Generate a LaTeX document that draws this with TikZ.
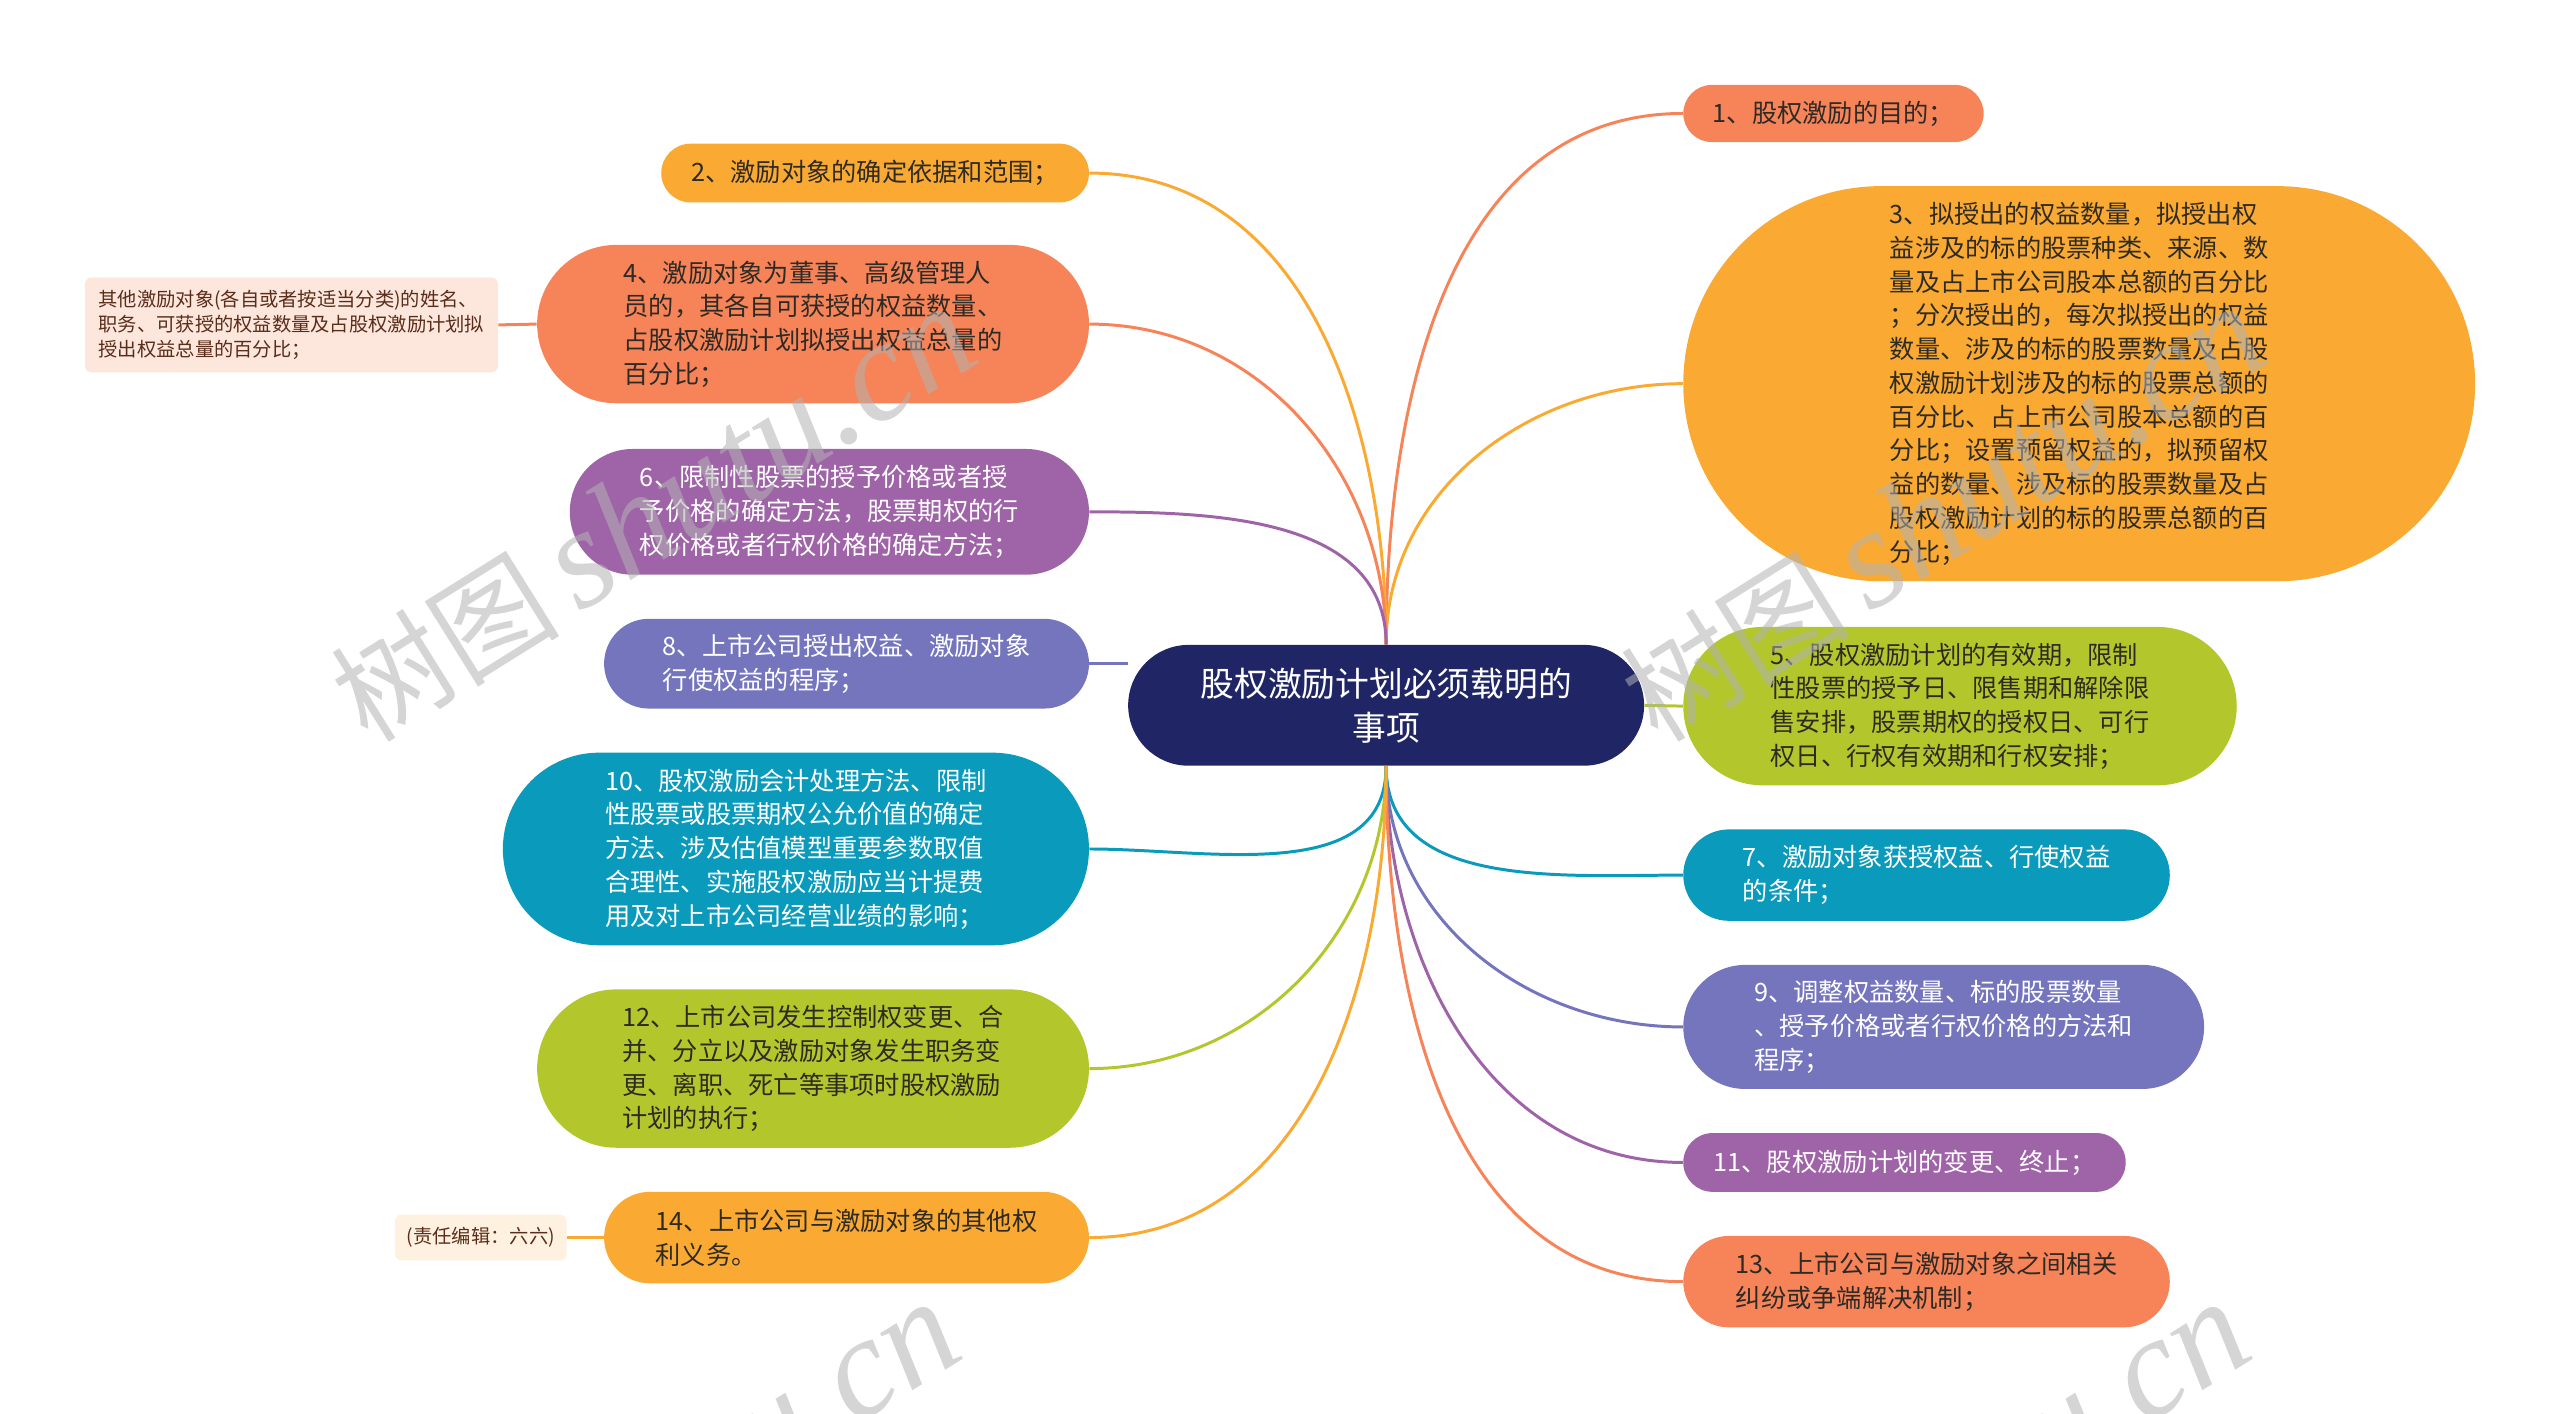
\documentclass[tikz,border=0pt]{standalone}
\usepackage{fontspec}
\setmainfont{Noto Sans CJK SC}
\newfontfamily\wmlat{Liberation Serif}
\definecolor{navy}{HTML}{1F2565}
\definecolor{coral}{HTML}{F68458}
\definecolor{orangeY}{HTML}{FAAA33}
\definecolor{lime}{HTML}{B3C72C}
\definecolor{teal}{HTML}{0A9ABB}
\definecolor{pblue}{HTML}{7575BE}
\definecolor{purp}{HTML}{9F64A8}
\definecolor{peach}{HTML}{FDE6DC}
\definecolor{cream}{HTML}{FEF1DF}
\definecolor{darktxt}{HTML}{2E2A26}
\definecolor{browntxt}{HTML}{5A2D1A}
\pgfdeclarelayer{bg}
\pgfsetlayers{bg,main}
\tikzset{
  box/.style={draw=none, align=left, inner sep=0pt, font=\fontsize{11}{14.7}\selectfont},
  sz/.style 2 args={minimum width=#1*0.025cm, minimum height=#2*0.025cm, rounded corners=#2*0.0125cm},
  subbox/.style={draw=none, align=left, inner sep=0pt, rounded corners=0.1cm, font=\fontsize{8.4}{11}\selectfont, text=browntxt},
  link/.style={line width=1.3pt},
  wm/.style={text=gray!60, text opacity=0.55, rotate=32, inner sep=0pt},
}
\begin{document}
\begin{tikzpicture}[x=0.025cm, y=-0.025cm]
\useasboundingbox (0,0) rectangle (1568,865.5);
% central
\node[box, sz={316}{74}, fill=navy, text=white, align=center, font=\fontsize{14.7}{19.1}\selectfont] (c) at (849,432) {股权激励计划必须载明的\\事项};
% right side
\node[box, sz={184}{35}, fill=coral, text=darktxt] (n1) at (1123,69.5) {1、股权激励的目的；};
\node[box, sz={485}{242}, fill=orangeY, text=darktxt] (n3) at (1273.5,235) {3、拟授出的权益数量，拟授出权\\益涉及的标的股票种类、来源、数\\量及占上市公司股本总额的百分比\\；分次授出的，每次拟授出的权益\\数量、涉及的标的股票数量及占股\\权激励计划涉及的标的股票总额的\\百分比、占上市公司股本总额的百\\分比；设置预留权益的，拟预留权\\益的数量、涉及标的股票数量及占\\股权激励计划的标的股票总额的百\\分比；};
\node[box, sz={339}{97}, fill=lime, text=darktxt] (n5) at (1200.5,432.5) {5、股权激励计划的有效期，限制\\性股票的授予日、限售期和解除限\\售安排，股票期权的授权日、可行\\权日、行权有效期和行权安排；};
\node[box, sz={298}{56}, fill=teal, text=white] (n7) at (1180,536) {7、激励对象获授权益、行使权益\\的条件；};
\node[box, sz={319}{76}, fill=pblue, text=white] (n9) at (1190.5,629) {9、调整权益数量、标的股票数量\\、授予价格或者行权价格的方法和\\程序；};
\node[box, sz={271}{36}, fill=purp, text=white] (n11) at (1166.5,712) {11、股权激励计划的变更、终止；};
\node[box, sz={298}{56}, fill=coral, text=darktxt] (n13) at (1180,785) {13、上市公司与激励对象之间相关\\纠纷或争端解决机制；};
% left side
\node[box, sz={262}{36}, fill=orangeY, text=darktxt] (n2) at (536,106) {2、激励对象的确定依据和范围；};
\node[box, sz={338}{97}, fill=coral, text=darktxt] (n4) at (498,198.5) {4、激励对象为董事、高级管理人\\员的，其各自可获授的权益数量、\\占股权激励计划拟授出权益总量的\\百分比；};
\node[subbox, fill=peach, minimum width=253*0.025cm, minimum height=58*0.025cm] (s4) at (178.5,199) {其他激励对象(各自或者按适当分类)的姓名、\\职务、可获授的权益数量及占股权激励计划拟\\授出权益总量的百分比；};
\node[box, sz={318}{77}, fill=purp, text=white] (n6) at (508,313.5) {6、限制性股票的授予价格或者授\\予价格的确定方法，股票期权的行\\权价格或者行权价格的确定方法；};
\node[box, sz={297}{55}, fill=pblue, text=white] (n8) at (518.5,406.5) {8、上市公司授出权益、激励对象\\行使权益的程序；};
\node[box, sz={359}{118}, fill=teal, text=white] (n10) at (487.5,520) {10、股权激励会计处理方法、限制\\性股票或股票期权公允价值的确定\\方法、涉及估值模型重要参数取值\\合理性、实施股权激励应当计提费\\用及对上市公司经营业绩的影响；};
\node[box, sz={338}{97}, fill=lime, text=darktxt] (n12) at (498,654.5) {12、上市公司发生控制权变更、合\\并、分立以及激励对象发生职务变\\更、离职、死亡等事项时股权激励\\计划的执行；};
\node[box, sz={297}{56}, fill=orangeY, text=darktxt] (n14) at (518.5,758) {14、上市公司与激励对象的其他权\\利义务。};
\node[subbox, fill=cream, minimum width=105*0.025cm, minimum height=28*0.025cm] (s14) at (294.5,758) {(责任编辑：六六)};
% connectors
\begin{pgfonlayer}{bg}
\draw[link, coral] (c.north) to[out=90,in=180] (n1.west);
\draw[link, orangeY] (c.north) to[out=90,in=180] (n3.west);
\draw[link, lime] (c.east) -- (n5.west);
\draw[link, teal] (c.south) to[out=-90,in=180] (n7.west);
\draw[link, pblue] (c.south) to[out=-90,in=180] (n9.west);
\draw[link, purp] (c.south) to[out=-90,in=180] (n11.west);
\draw[link, coral] (c.south) to[out=-90,in=180] (n13.west);
\draw[link, orangeY] (c.north) to[out=90,in=0] (n2.east);
\draw[link, coral] (c.north) to[out=90,in=0] (n4.east);
\draw[link, purp] (c.north) to[out=90,in=0] (n6.east);
\draw[link, pblue] (n8.east) -- (c.west |- n8.east);
\draw[link, teal] (c.south) to[out=-90,in=0] (n10.east);
\draw[link, lime] (c.south) to[out=-90,in=0] (n12.east);
\draw[link, orangeY] (c.south) to[out=-90,in=0] (n14.east);
\draw[link, coral] (s4.east) -- (n4.west);
\draw[link, orangeY] (s14.east) -- (n14.west);
\end{pgfonlayer}
% watermarks
\begin{scope}
\clip (0,0) rectangle (1568,865.5);
\node[wm] (w1) at (400,315) {\fontsize{50}{50}\selectfont 树图\,{\wmlat\itshape\fontsize{62}{62}\selectfont shutu.cn}};
\node[wm] (w2) at (1190,315) {\fontsize{50}{50}\selectfont 树图\,{\wmlat\itshape\fontsize{62}{62}\selectfont shutu.cn}};
\node[wm] (w3) at (390,925) {\fontsize{50}{50}\selectfont 树图\,{\wmlat\itshape\fontsize{62}{62}\selectfont shutu.cn}};
\node[wm] (w4) at (1180,925) {\fontsize{50}{50}\selectfont 树图\,{\wmlat\itshape\fontsize{62}{62}\selectfont shutu.cn}};
\end{scope}
\end{tikzpicture}
\end{document}
